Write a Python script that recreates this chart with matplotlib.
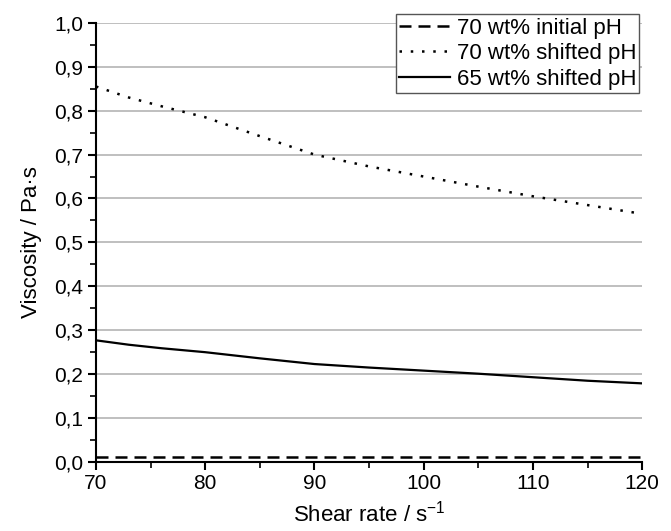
import numpy as np
import matplotlib.pyplot as plt
from matplotlib.ticker import MultipleLocator, FuncFormatter

plt.rcParams['font.family'] = ['Liberation Sans', 'DejaVu Sans']

# shear rate / s^-1
shear = [70, 73, 76, 80, 85, 90, 95, 100, 105, 110, 115, 120]
# viscosity / Pa s
visc_70_initial = [0.011, 0.011, 0.011, 0.011, 0.011, 0.011, 0.011, 0.011, 0.011, 0.011, 0.011, 0.011]
visc_70_shifted = [0.855, 0.83, 0.81, 0.785, 0.742, 0.70, 0.673, 0.65, 0.627, 0.605, 0.585, 0.565]
visc_65_shifted = [0.277, 0.267, 0.259, 0.25, 0.236, 0.223, 0.215, 0.208, 0.201, 0.193, 0.185, 0.179]

fig = plt.figure()
fig.set_size_inches(6.71, 5.31)
ax = fig.add_axes([0.143, 0.130, 0.814, 0.827])

ax.plot(shear, visc_70_initial, color='black', ls=(0, (4.8, 2.8)), lw=1.8, label='70 wt% initial pH')
ax.plot(shear, visc_70_shifted, color='black', ls=(0, (1, 3.5)), lw=1.8, label='70 wt% shifted pH')
ax.plot(shear, visc_65_shifted, color='black', ls='-', lw=1.6, label='65 wt% shifted pH')

ax.set_xlim(70, 120)
ax.set_ylim(0, 1.0)
ax.xaxis.set_major_locator(MultipleLocator(10))
ax.xaxis.set_minor_locator(MultipleLocator(5))
ax.yaxis.set_major_locator(MultipleLocator(0.1))
ax.yaxis.set_minor_locator(MultipleLocator(0.05))
ax.yaxis.set_major_formatter(FuncFormatter(lambda v, p: f'{v:.1f}'.replace('.', ',')))

ax.grid(axis='y', color='#b4b4b4', lw=1.2)
ax.set_axisbelow(True)
for s in ['top', 'right']:
    ax.spines[s].set_visible(False)
for s in ['left', 'bottom']:
    ax.spines[s].set_linewidth(1.5)
ax.tick_params(which='major', direction='out', length=6, width=1.5, labelsize=15, pad=3)
ax.tick_params(which='minor', direction='out', length=4, width=1.2)

ax.set_xlabel('Shear rate / s$^{\\mathregular{-1}}$', fontsize=16, labelpad=5)
ax.set_ylabel('Viscosity / Pa·s', fontsize=16, labelpad=9)

leg = ax.legend(loc='upper right', bbox_to_anchor=(0.953, 0.973), bbox_transform=fig.transFigure,
                fontsize=16, frameon=True, fancybox=False, handlelength=2.3,
                borderpad=0.15, labelspacing=0.2, handletextpad=0.3, borderaxespad=0)
leg.get_frame().set_edgecolor('#555555')
leg.get_frame().set_linewidth(1.0)
leg.get_frame().set_alpha(1)

fig.savefig('out.png', dpi=100)
